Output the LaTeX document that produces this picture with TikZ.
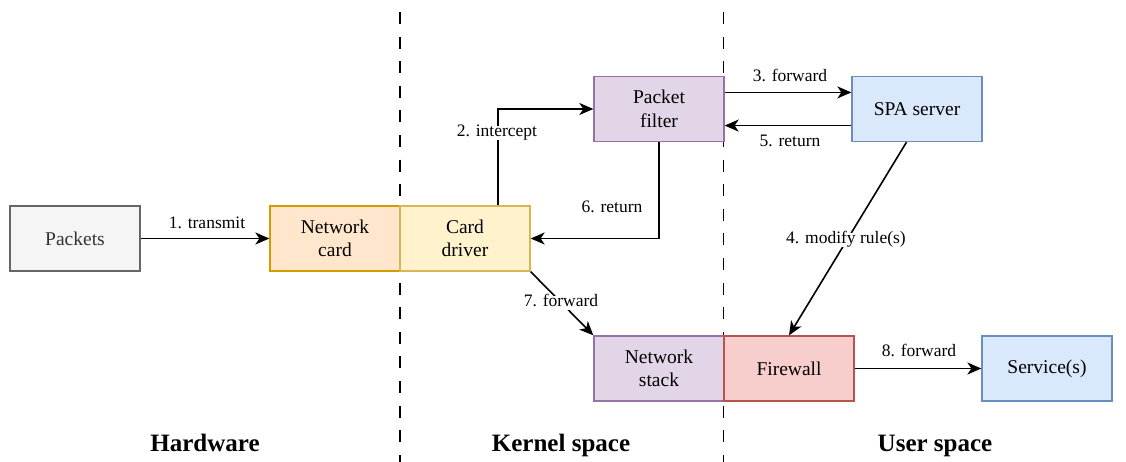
\documentclass[tikz,border=0pt]{standalone}
\usepackage{fontspec}
\setmainfont{LiberationSerif}[Extension=.ttf, UprightFont=*-Regular, BoldFont=*-Bold, ItalicFont=*-Italic, BoldItalicFont=*-BoldItalic]
\usetikzlibrary{arrows.meta,calc}
\definecolor{grayfill}{HTML}{F5F5F5}
\definecolor{graydraw}{HTML}{666666}
\definecolor{graytext}{HTML}{333333}
\definecolor{orangefill}{HTML}{FFE6CC}
\definecolor{orangedraw}{HTML}{D79B00}
\definecolor{yellowfill}{HTML}{FFF2CC}
\definecolor{yellowdraw}{HTML}{D6B656}
\definecolor{purplefill}{HTML}{E1D5E7}
\definecolor{purpledraw}{HTML}{9673A6}
\definecolor{bluefill}{HTML}{DAE8FC}
\definecolor{bluedraw}{HTML}{6C8EBF}
\definecolor{redfill}{HTML}{F8CECC}
\definecolor{reddraw}{HTML}{B85450}
\begin{document}
\begin{tikzpicture}[x=1pt,y=-1pt,
  box/.style={draw, line width=1.3pt, minimum width=130pt, minimum height=65pt,
    inner sep=0pt, align=center, font=\fontsize{19.5}{23.5}\selectfont},
  graybox/.style={box, fill=grayfill, draw=graydraw, text=graytext},
  orangebox/.style={box, fill=orangefill, draw=orangedraw},
  yellowbox/.style={box, fill=yellowfill, draw=yellowdraw},
  purplebox/.style={box, fill=purplefill, draw=purpledraw},
  bluebox/.style={box, fill=bluefill, draw=bluedraw},
  redbox/.style={box, fill=redfill, draw=reddraw},
  arr/.style={draw, line width=1.6pt, -{Stealth[length=14pt,width=12pt,inset=4pt]}},
  lbl/.style={font=\fontsize{17.5}{20}\selectfont, inner sep=1pt,
    text height=0.9em, text depth=0.24em},
  lblbg/.style={lbl, fill=white},
  region/.style={font=\bfseries\fontsize{25}{30}\selectfont, anchor=base, inner sep=0pt},
  divider/.style={draw, line width=1.3pt, dash pattern=on 12pt off 12.6pt}
]
\useasboundingbox (0,0) rectangle (1126,462);

% dividers
\coordinate (d1top) at (400,12);
\coordinate (d1bot) at (400,462);
\coordinate (d2top) at (723.5,12);
\coordinate (d2bot) at (723.5,462);
\draw[divider] (d1top) -- (d1bot);
\draw[divider] (d2top) -- (d2bot);

% boxes
\node[graybox]   (packets) at (75,238.5)   {Packets};
\node[orangebox] (ncard)   at (335,238.5)  {Network\\card};
\node[yellowbox] (driver)  at (465,238.5)  {Card\\driver};
\node[purplebox] (pfilter) at (659,109)    {Packet\\filter};
\node[bluebox]   (spa)     at (917,109)    {SPA server};
\node[purplebox] (nstack)  at (659,368.5)  {Network\\stack};
\node[redbox]    (firewall) at (789,368.5) {Firewall};
\node[bluebox]   (service) at (1047,368.5) {Service(s)};

% connectors
\draw[arr] (packets.east) -- (ncard.west);
\draw[arr] ($(driver.north west)!0.75!(driver.north east)$) |- (pfilter.west);
\draw[arr] ($(pfilter.north east)!0.25!(pfilter.south east)$) coordinate (a3) -- (a3 -| spa.west);
\draw[arr] ($(spa.north west)!0.75!(spa.south west)$) coordinate (a5) -- (a5 -| pfilter.east);
\draw[arr] (pfilter.south) |- (driver.east);
\draw[arr] ($(spa.south west)!0.42!(spa.south east)$) -- (firewall.north);
\draw[arr] (driver.south east) -- (nstack.north west);
\draw[arr] (firewall.east) -- (service.west);

% labels
\node[lbl]   (l1) at (207,225) {1. transmit};
\node[lblbg] (l2) at (497,133) {2. intercept};
\node[lbl]   (l3) at (790,78)  {3. forward};
\node[lblbg] (l4) at (846,240) {4. modify rule(s)};
\node[lbl]   (l5) at (790,143) {5. return};
\node[lbl]   (l6) at (612,209) {6. return};
\node[lblbg] (l7) at (561,303) {7. forward};
\node[lbl]   (l8) at (919,353) {8. forward};

% regions
\node[region] (hw) at (205,451) {Hardware};
\node[region] (ks) at (561,451) {Kernel space};
\node[region] (us) at (935,451) {User space};
\end{tikzpicture}
\end{document}
